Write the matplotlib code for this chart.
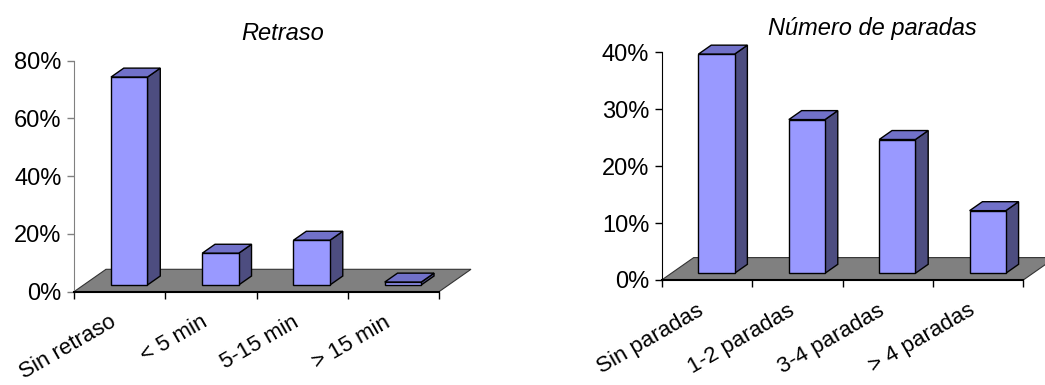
import matplotlib
matplotlib.use("Agg")
import matplotlib.pyplot as plt
from matplotlib import font_manager
from matplotlib.patches import Polygon, Rectangle
from matplotlib.ticker import PercentFormatter, NullFormatter
from matplotlib.transforms import ScaledTranslation

# Datos
retraso_cats = ["Sin retraso", "< 5 min", "5-15 min", "> 15 min"]
retraso_vals = [0.72, 0.11, 0.155, 0.01]
paradas_cats = ["Sin paradas", "1-2 paradas", "3-4 paradas", "> 4 paradas"]
paradas_vals = [0.385, 0.27, 0.235, 0.11]

W, H = 1045, 385
DEPTH_X, DEPTH_Y = 32, 22.4     # profundidad del suelo en pixeles
F0, F1 = 0.30, 0.70             # posicion de la barra dentro de la profundidad
BAR_W = 0.4

C_FRONT, C_TOP, C_SIDE = "#9999FF", "#7171C9", "#4D4D80"
C_FLOOR = "#808080"

names = {f.name for f in font_manager.fontManager.ttflist}
NARROW = "Liberation Sans Narrow" if "Liberation Sans Narrow" in names else "Liberation Sans"
YSIZE = 19 if NARROW == "Liberation Sans Narrow" else 17
plt.rcParams["font.family"] = ["Liberation Sans", "DejaVu Sans"]

fig = plt.figure(figsize=(W / 100, H / 100), dpi=100)


def px_axes(x0, x1, y_top, y_bot):
    return fig.add_axes([x0 / W, 1 - y_bot / H, (x1 - x0) / W, (y_bot - y_top) / H])


def draw(ax, cats, vals, ymax, step, axis_color):
    n = len(cats)
    ax.set_xlim(0, n)
    ax.set_ylim(0, ymax)
    pos = ax.get_position()
    ddx = DEPTH_X * n / (pos.width * W)
    ddy = DEPTH_Y * ymax / (pos.height * H)

    floor = Polygon([(0, 0), (n, 0), (n + ddx, ddy), (ddx, ddy)], closed=True,
                    fc=C_FLOOR, ec="#333333", lw=0.8, clip_on=False, zorder=1)
    ax.add_patch(floor)

    bx, by = (F1 - F0) * ddx, (F1 - F0) * ddy
    for i, v in enumerate(vals):
        x0 = i + 0.5 - BAR_W / 2 + F0 * ddx
        x1 = x0 + BAR_W
        y0 = F0 * ddy
        y1 = y0 + v
        side = Polygon([(x1, y0), (x1 + bx, y0 + by), (x1 + bx, y1 + by), (x1, y1)],
                       fc=C_SIDE, ec="black", lw=1, clip_on=False, zorder=2)
        top = Polygon([(x0, y1), (x1, y1), (x1 + bx, y1 + by), (x0 + bx, y1 + by)],
                      fc=C_TOP, ec="black", lw=1, clip_on=False, zorder=2)
        front = Rectangle((x0, y0), BAR_W, v, fc=C_FRONT, ec="black", lw=1,
                          clip_on=False, zorder=3)
        for p in (side, top, front):
            ax.add_patch(p)

    for s in ("top", "right"):
        ax.spines[s].set_visible(False)
    ax.spines["left"].set_color(axis_color)
    ax.spines["bottom"].set_color("black")
    ax.spines["bottom"].set_linewidth(1.5)
    ax.spines["bottom"].set_zorder(4)
    ax.patch.set_visible(False)

    ax.set_yticks([k * step for k in range(int(round(ymax / step)) + 1)])
    ax.yaxis.set_major_formatter(PercentFormatter(1.0, decimals=0))
    ax.tick_params(axis="y", length=5, width=1, color=axis_color, pad=4,
                   labelsize=YSIZE)
    for lab in ax.get_yticklabels():
        lab.set_fontfamily(NARROW)
    ax.set_xticks(range(n + 1))
    ax.xaxis.set_major_formatter(NullFormatter())
    ax.tick_params(axis="x", length=5, width=1, color="black")

    off = ScaledTranslation(-10 / 100, -20 / 100, fig.dpi_scale_trans)
    for i, c in enumerate(cats):
        ax.text(i + 0.5, 0, c, transform=ax.get_xaxis_transform() + off,
                rotation=30, ha="right", va="top", rotation_mode="anchor",
                fontsize=16)


ax1 = px_axes(74, 439, 60.7, 291.7)
draw(ax1, retraso_cats, retraso_vals, 0.8, 0.2, "#808080")

ax2 = px_axes(661.7, 1023.3, 52.3, 280)
draw(ax2, paradas_cats, paradas_vals, 0.4, 0.1, "black")

fig.text(283 / W, 1 - 33.5 / H, "Retraso", ha="center", va="center",
         fontsize=17, style="italic")
fig.text(872 / W, 1 - 28 / H, "Número de paradas", ha="center", va="center",
         fontsize=17, style="italic")

fig.savefig("out.png", dpi=100)
